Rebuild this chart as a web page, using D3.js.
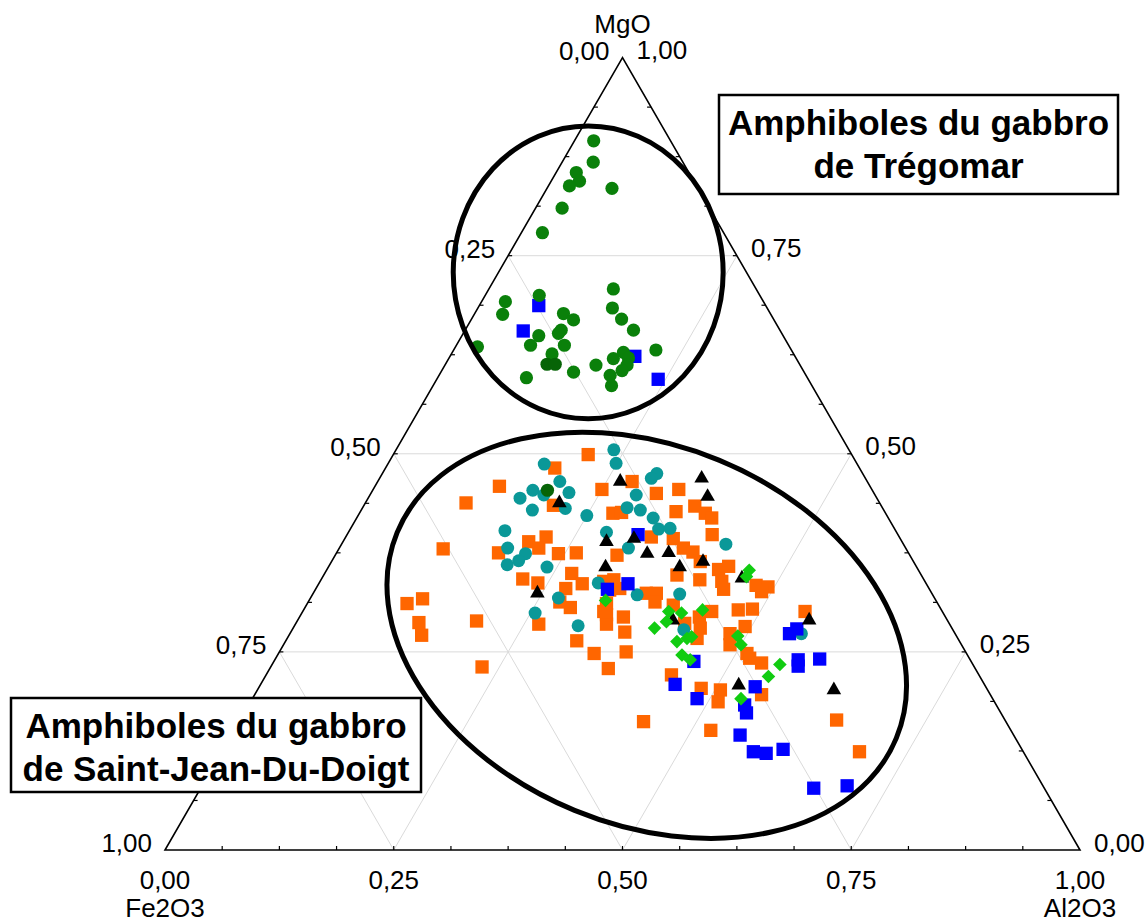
<!DOCTYPE html>
<html>
<head>
<meta charset="utf-8">
<script src="https://cdn.jsdelivr.net/npm/d3@7"></script>
<style>
  body { margin: 0; background: #fff; }
  svg text { font-family: "Liberation Sans", Arial, sans-serif; fill: #000; }
</style>
</head>
<body>
<svg id="chart" width="1146" height="924"></svg>
<script>
// Amphibole compositions, each row = [MgO, Fe2O3, Al2O3] (normalised %)
const greenCircles = [
  [89.5,8.4,2.1],[86.8,9.8,3.4],[85.5,12.3,2.2],[84.4,12.5,3.1],[83.8,13.9,2.3],[83.5,9.4,7.1],
  [81.0,16.1,2.9],[77.9,19.8,2.3],[70.8,15.6,13.6],[70.0,24.1,5.9],[69.2,28.2,2.6],[67.6,29.3,3.1],
  [68.4,16.9,14.7],[67.7,22.6,9.7],[66.9,21.9,11.2],[67.0,16.6,16.4],[65.6,16.0,18.4],[65.6,23.9,10.5],
  [65.2,24.4,10.4],[64.9,26.7,8.4],[63.7,28.2,8.1],[63.7,24.5,11.8],[63.5,34.1,2.4],[63.1,14.8,22.1],
  [62.6,26.4,11.0],[62.8,18.5,18.7],[62.0,20.0,18.0],[62.1,18.3,19.6],[61.2,18.9,19.9],[60.5,19.8,19.7],
  [61.2,22.3,16.5],[60.3,25.2,14.5],[59.9,21.4,18.7],[59.6,30.7,9.7],[58.6,21.9,19.5]
];
const darkGreenCircles = [[61.3,27.6,11.1],[61.3,26.7,12.0],[45.4,35.5,19.1]];
const blueSquares = [
  [68.7,24.8,6.5],[65.5,28.1,6.4],[62.3,17.5,20.2],[59.4,16.4,24.2],[39.8,28.4,31.8],[33.6,32.6,33.8],
  [32.9,35.2,31.9],[27.9,17.0,55.1],[27.3,18.1,54.6],[24.0,18.8,57.2],[23.2,19.2,57.6],[24.1,16.4,59.5],
  [23.8,30.3,45.9],[20.9,33.8,45.3],[19.1,32.3,48.6],[20.6,25.2,54.2],[18.3,27.5,54.2],[17.3,27.8,54.9],
  [14.5,29.9,55.6],[12.4,29.5,58.1],[12.2,28.2,59.6],[12.7,26.1,61.2],[7.8,25.2,67.0],[8.1,21.4,70.5]
];
const orangeSquares = [
  [49.9,28.8,21.3],[48.2,33.3,18.5],[45.9,40.5,13.6],[43.8,45.2,11.0],[45.5,29.5,25.0],[43.5,35.8,20.7],
  [42.5,29.8,27.7],[42.6,28.8,28.6],[38.0,50.6,11.4],[38.9,40.8,20.3],[39.5,38.6,21.9],[38.1,40.1,21.8],
  [37.5,44.8,17.7],[37.4,38.3,24.3],[37.5,36.3,26.2],[37.2,32.0,30.8],[34.9,38.1,27.0],[33.6,37.6,28.8],
  [34.2,43.8,22.0],[33.7,42.4,23.9],[33.0,39.7,27.3],[31.3,41.2,27.5],[30.6,40.4,29.0],[33.9,35.1,31.0],
  [32.8,35.0,32.2],[33.0,33.8,33.2],[31.1,36.2,32.7],[28.9,51.5,19.6],[31.1,58.0,10.9],[31.7,56.0,12.3],
  [28.7,57.9,13.4],[27.1,58.4,14.5],[28.5,44.9,26.6],[26.4,41.8,31.8],[29.7,36.9,33.4],[28.5,37.5,34.0],
  [29.4,35.2,35.4],[27.5,36.0,36.5],[46.5,25.7,27.8],[45.0,23.8,31.2],[45.5,21.1,33.4],[42.7,22.8,34.5],
  [43.4,20.4,36.2],[42.5,19.7,37.8],[41.9,19.3,38.8],[39.5,27.1,33.4],[39.3,24.8,35.9],[38.1,24.3,37.6],
  [37.6,23.5,38.9],[39.8,20.3,39.9],[36.4,23.3,40.3],[35.4,21.8,42.8],[35.8,20.5,43.7],[34.7,26.7,38.6],
  [34.1,24.5,41.4],[33.9,22.2,43.9],[32.9,22.5,44.6],[33.4,18.7,47.9],[33.2,17.5,49.3],[32.6,18.5,48.9],
  [34.1,33.9,32.0],[32.4,31.2,36.4],[32.4,30.1,37.5],[31.3,30.8,37.9],[30.9,29.0,40.1],[30.1,37.0,32.9],
  [30.1,25.2,44.7],[30.3,22.2,47.5],[30.4,20.6,49.0],[28.6,28.9,42.5],[29.4,26.9,43.7],[28.0,27.5,44.5],
  [27.3,24.6,48.1],[28.2,22.5,49.3],[30.1,15.0,54.9],[26.7,28.5,44.8],[25.9,25.3,48.8],[24.8,24.0,51.2],
  [24.2,24.0,51.8],[23.6,23.0,53.4],[25.0,37.1,37.9],[22.9,40.1,37.0],[22.1,33.6,44.3],[20.4,31.2,48.4],
  [20.2,29.2,50.6],[18.7,30.2,51.1],[19.6,25.0,55.4],[16.2,39.6,44.2],[15.1,32.8,52.1],[16.4,18.4,65.2],
  [12.4,17.9,69.7],[23.1,53.8,23.1],[24.8,40.7,34.5]
];
const tealCircles = [
  [50.5,25.7,23.8],[48.8,26.3,24.9],[48.7,34.2,17.1],[46.5,33.6,19.9],[45.4,37.1,17.5],[44.4,39.0,16.6],
  [44.8,36.2,19.0],[45.1,33.3,21.6],[42.9,38.4,18.7],[43.1,34.7,22.2],[42.2,32.8,25.0],[43.2,27.9,28.9],
  [40.3,42.7,17.0],[40.1,31.7,28.2],[38.1,43.5,18.4],[37.4,41.9,20.7],[36.5,43.1,20.4],[36.0,44.6,19.4],
  [35.7,40.4,23.9],[38.1,30.3,31.6],[33.7,35.8,30.5],[31.8,41.1,27.1],[29.9,44.6,25.5],[28.3,40.7,31.0],
  [47.5,22.5,30.0],[46.9,23.4,29.7],[44.8,26.1,29.1],[42.9,26.6,30.5],[41.9,25.7,32.4],[40.5,25.8,33.7],
  [40.6,24.5,34.9],[38.6,19.4,42.0],[32.2,32.3,35.5],[32.3,27.6,40.1],[27.8,29.4,42.8],[27.3,16.8,55.9]
];
const blackTriangles = [
  [46.5,27.0,26.5],[43.8,35.0,21.2],[38.9,32.3,28.8],[35.7,34.0,30.3],[32.4,43.1,24.5],[46.9,17.9,35.2],
  [44.6,18.4,37.0],[39.3,29.1,31.6],[37.4,28.6,34.0],[37.5,26.2,36.3],[36.4,23.0,40.6],[35.7,25.9,38.4],
  [34.3,19.8,45.9],[29.0,30.0,41.0],[29.0,15.1,55.9],[20.8,26.9,52.3],[20.2,16.8,63.0]
];
const limeDiamonds = [
  [35.3,18.5,46.2],[34.5,19.2,46.3],[31.5,36.1,32.4],[30.1,29.9,40.0],[29.9,28.6,41.5],[30.3,26.1,43.6],
  [28.8,30.8,40.4],[28.0,32.5,39.5],[26.3,30.9,42.8],[26.7,29.6,43.7],[26.9,29.0,44.1],[24.6,31.2,44.2],
  [24.0,30.6,45.4],[27.0,23.9,49.1],[25.9,24.1,50.0],[23.4,21.1,55.5],[21.9,23.1,55.0],[19.1,27.5,53.4]
];

// Axis ticks and their labels
const majorTicks = [0, 0.25, 0.5, 0.75, 1];
const tickLabels = ["0,00", "0,25", "0,50", "0,75", "1,00"];
const gridTicks = [0.25, 0.5, 0.75];
const minorTicks = d3.range(1, 16).map(k => k / 16);
const axisNames = ["MgO", "Fe2O3", "Al2O3"];

// Outlined groups: centre composition, radii as a fraction of the side, tilt in degrees
const groupOutlines = [
  { centre: [72.9, 17.3, 9.8], rx: 0.1475, ry: 0.16, tilt: 0 },
  { centre: [27.1, 33.8, 39.1], rx: 0.295, ry: 0.207, tilt: 22.4 }
];
const groupBoxes = [
  { lines: ["Amphiboles du gabbro", "de Trégomar"], x: 719, y: 95, w: 399, h: 99 },
  { lines: ["Amphiboles du gabbro", "de Saint-Jean-Du-Doigt"], x: 11, y: 698, w: 410, h: 94 }
];

const svg = d3.select("#chart");
const sideLen = 915;
const baseX = d3.scaleLinear().domain([0, 1]).range([165, 165 + sideLen]);
const heightY = d3.scaleLinear().domain([0, 1]).range([850, 850 - sideLen * Math.sqrt(3) / 2]);

// [MgO, Fe2O3, Al2O3] -> screen position
function project(c) {
  const s = c[0] + c[1] + c[2];
  const mg = c[0] / s, al = c[2] / s;
  return [baseX(al + mg / 2), heightY(mg)];
}

// Grid lines parallel to each side
const gridG = svg.append("g").attr("stroke", "#dadada").attr("stroke-width", 1);
gridTicks.forEach(t => {
  const segs = [
    [[t, 1 - t, 0], [t, 0, 1 - t]],
    [[1 - t, t, 0], [0, t, 1 - t]],
    [[1 - t, 0, t], [0, 1 - t, t]]
  ];
  segs.forEach(([a, b]) => {
    const p = project(a), q = project(b);
    gridG.append("line").attr("x1", p[0]).attr("y1", p[1]).attr("x2", q[0]).attr("y2", q[1]);
  });
});

// Triangle frame
const vMg = project([1, 0, 0]), vFe = project([0, 1, 0]), vAl = project([0, 0, 1]);
svg.append("path")
  .attr("d", d3.line()([vMg, vFe, vAl]) + "Z")
  .attr("fill", "none").attr("stroke", "#000").attr("stroke-width", 1.6)
  .attr("stroke-linejoin", "miter");

// Small ticks on the three sides
const tickG = svg.append("g").attr("stroke", "#000").attr("stroke-width", 1.2);
minorTicks.forEach(t => {
  const b = project([0, 1 - t, t]);
  tickG.append("line").attr("x1", b[0]).attr("y1", b[1]).attr("x2", b[0]).attr("y2", b[1] - 4);
  const l = project([1 - t, t, 0]);
  tickG.append("line").attr("x1", l[0]).attr("y1", l[1]).attr("x2", l[0] + 4).attr("y2", l[1]);
  const r = project([t, 0, 1 - t]);
  tickG.append("line").attr("x1", r[0]).attr("y1", r[1]).attr("x2", r[0] - 4).attr("y2", r[1]);
});

// Tick labels
const labelG = svg.append("g").attr("font-size", 26);
majorTicks.forEach((t, i) => {
  const l = project([1 - t, t, 0]);
  labelG.append("text").attr("x", l[0] - 13).attr("y", l[1] - 7)
    .attr("text-anchor", "end").attr("dominant-baseline", "central").text(tickLabels[i]);
  const r = project([t, 0, 1 - t]);
  labelG.append("text").attr("x", r[0] + 14).attr("y", r[1] - 7.5)
    .attr("text-anchor", "start").attr("dominant-baseline", "central").text(tickLabels[i]);
  const b = project([0, 1 - t, t]);
  labelG.append("text").attr("x", b[0]).attr("y", 889)
    .attr("text-anchor", "middle").text(tickLabels[i]);
});

// Axis names at the corners
labelG.append("text").attr("x", vMg[0]).attr("y", 33).attr("text-anchor", "middle").text(axisNames[0]);
labelG.append("text").attr("x", vFe[0]).attr("y", 917).attr("text-anchor", "middle").text(axisNames[1]);
labelG.append("text").attr("x", vAl[0]).attr("y", 917).attr("text-anchor", "middle").text(axisNames[2]);

// Data points
const pts = svg.append("g");
function drawSymbols(data, symbolType, size, fill, rotate) {
  const path = d3.symbol().type(symbolType).size(size)();
  pts.append("g").selectAll("path").data(data).join("path")
    .attr("d", path)
    .attr("transform", d => {
      const p = project(d);
      return `translate(${p[0]},${p[1]})` + (rotate ? ` rotate(${rotate})` : "");
    })
    .attr("fill", fill);
}
drawSymbols(orangeSquares, d3.symbolSquare, 13.3 * 13.3, "#ff6600");
drawSymbols(tealCircles, d3.symbolCircle, Math.PI * 6.5 * 6.5, "#0a9898");
drawSymbols(blueSquares, d3.symbolSquare, 13.3 * 13.3, "#0000ff");
drawSymbols(greenCircles, d3.symbolCircle, Math.PI * 6.6 * 6.6, "#0a800a");
drawSymbols(darkGreenCircles, d3.symbolCircle, Math.PI * 6.6 * 6.6, "#076407");
drawSymbols(blackTriangles, d3.symbolTriangle, 92, "#000");
drawSymbols(limeDiamonds, d3.symbolSquare, 9.6 * 9.6, "#11cc11", 45);

// Group outlines
groupOutlines.forEach(o => {
  const c = project(o.centre);
  svg.append("ellipse")
    .attr("cx", 0).attr("cy", 0)
    .attr("rx", o.rx * sideLen).attr("ry", o.ry * sideLen)
    .attr("transform", `translate(${c[0]},${c[1]}) rotate(${o.tilt})`)
    .attr("fill", "none").attr("stroke", "#000").attr("stroke-width", 5);
});

// Group captions
groupBoxes.forEach(b => {
  const g = svg.append("g");
  g.append("rect").attr("x", b.x).attr("y", b.y).attr("width", b.w).attr("height", b.h)
    .attr("fill", "#fff").attr("stroke", "#000").attr("stroke-width", 2.5);
  b.lines.forEach((s, i) => {
    g.append("text").attr("x", b.x + b.w / 2).attr("y", b.y + 40 + i * 43)
      .attr("text-anchor", "middle").attr("font-size", 35).attr("font-weight", "bold").text(s);
  });
});
</script>
</body>
</html>
